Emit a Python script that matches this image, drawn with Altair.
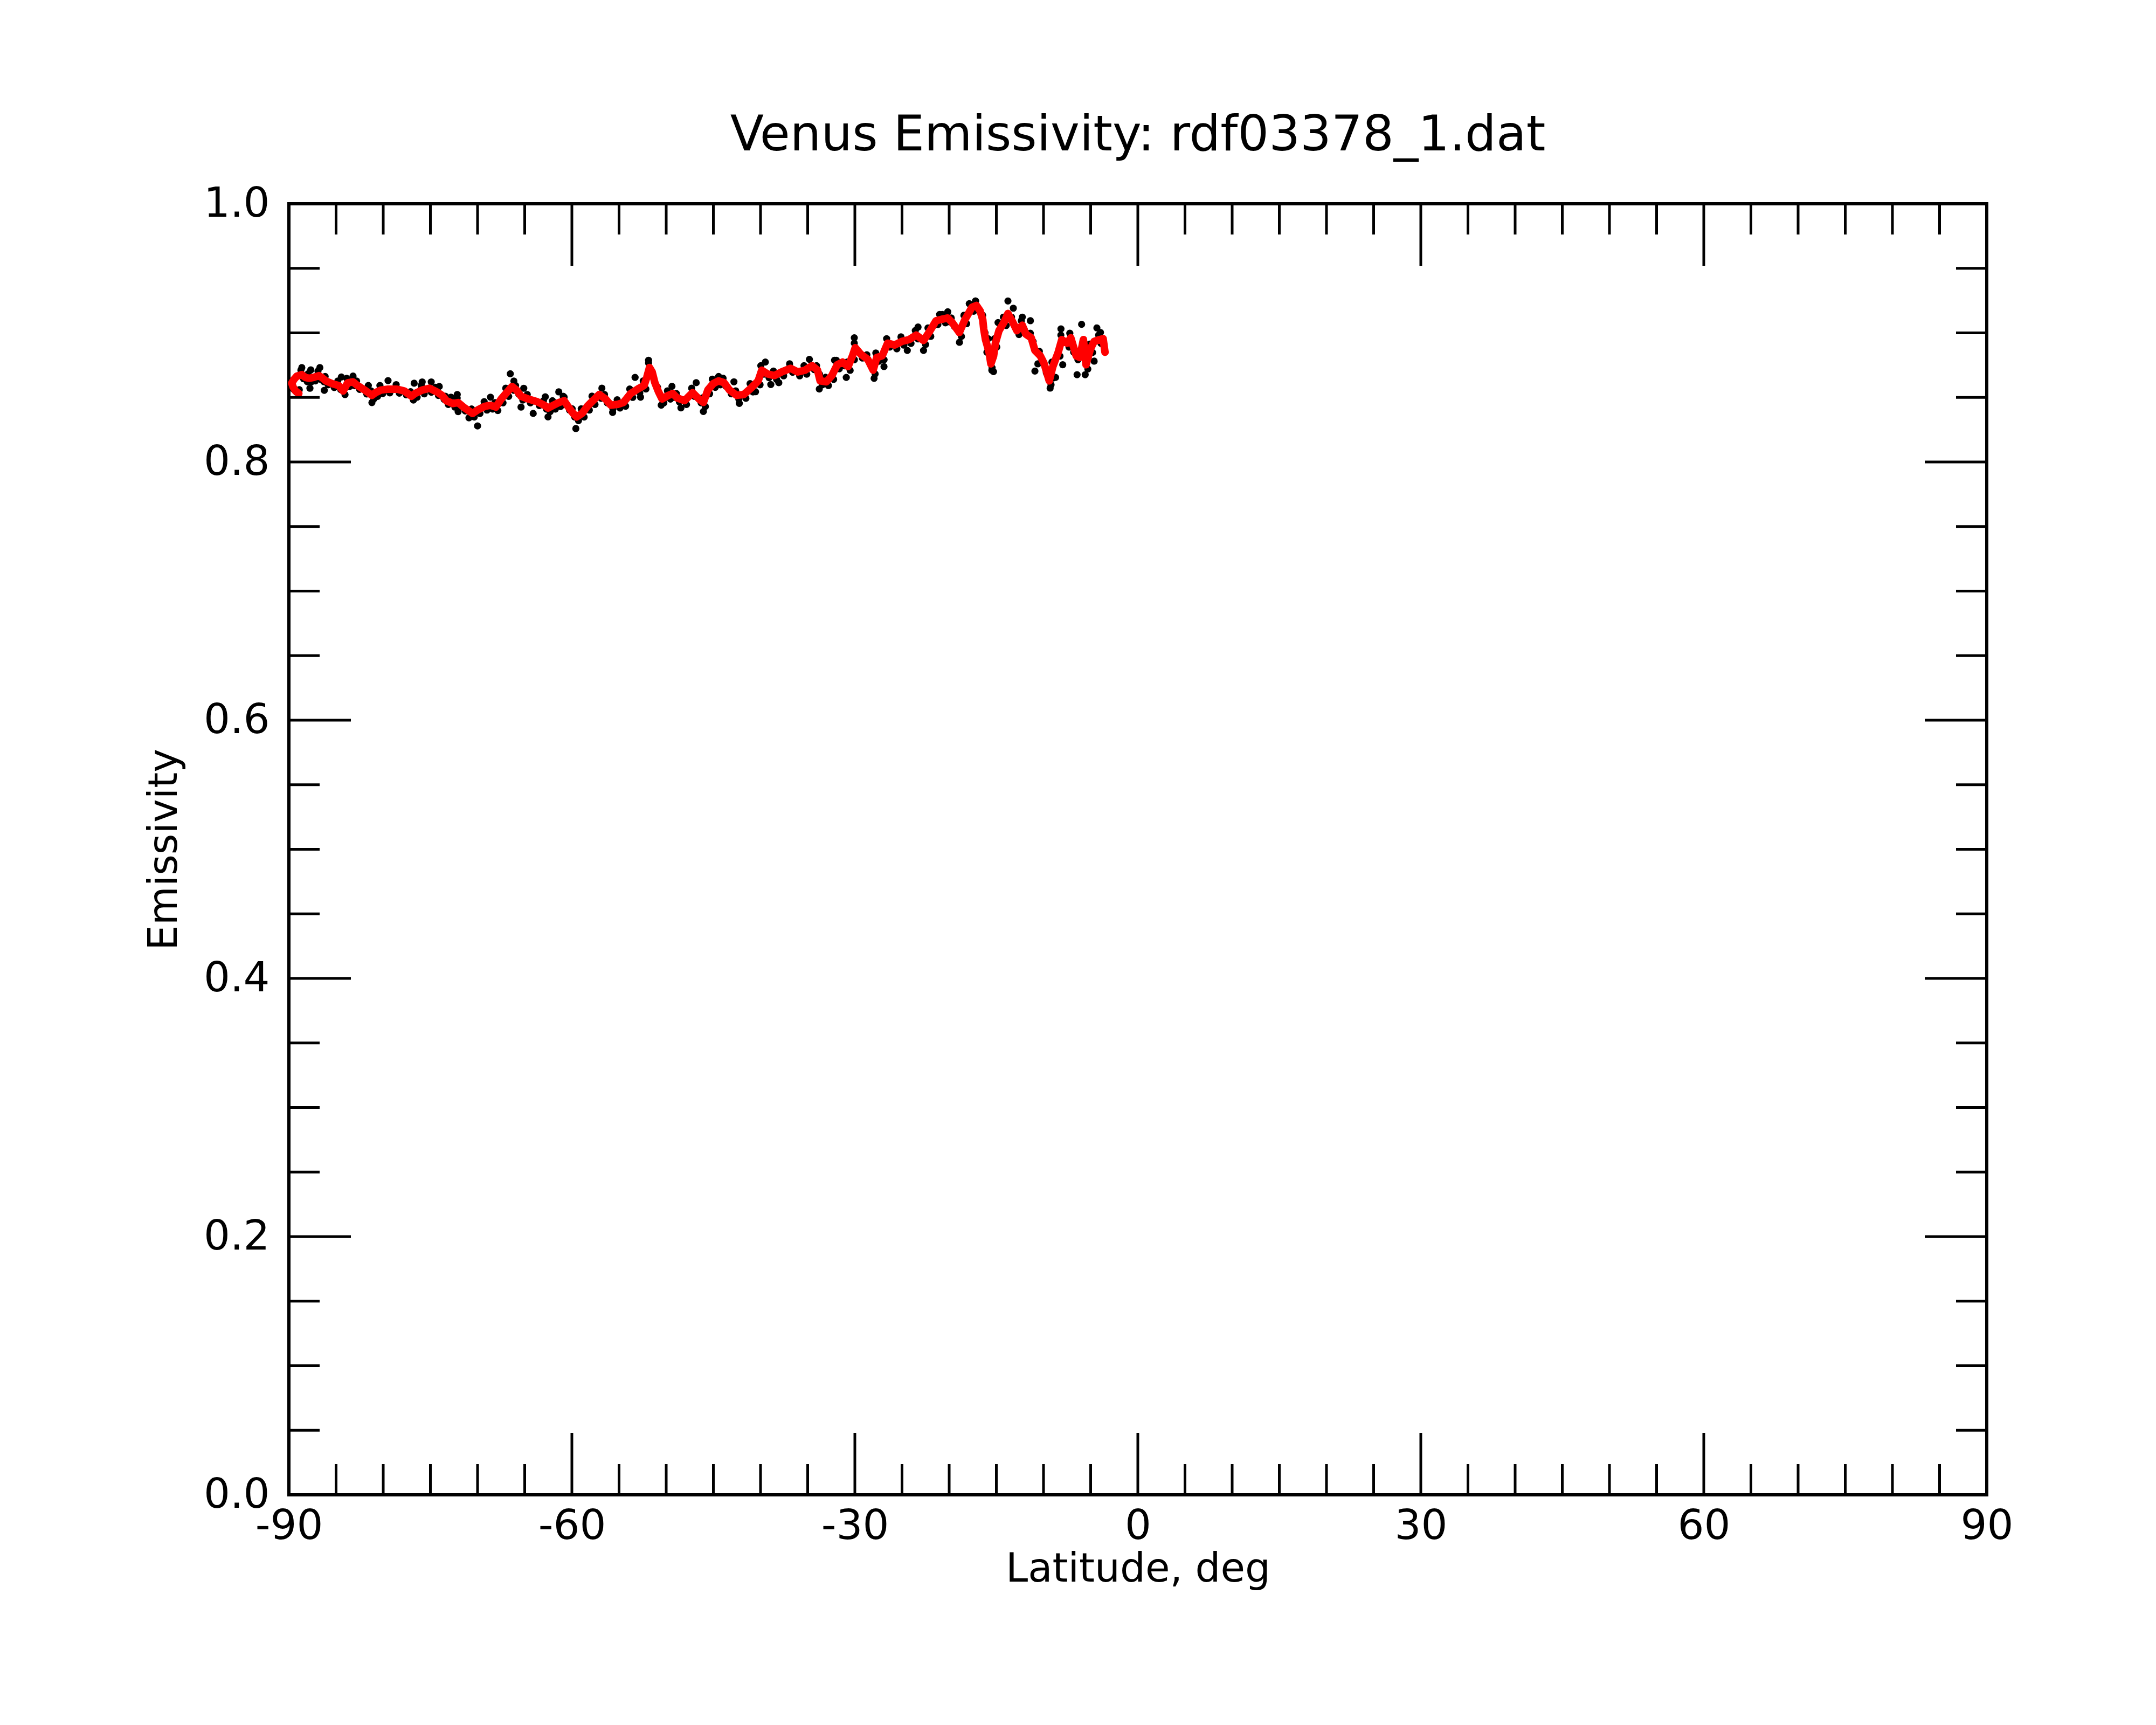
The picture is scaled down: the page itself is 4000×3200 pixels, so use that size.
import altair as alt
import pandas as pd

F = "DejaVu Sans"

# Smoothed emissivity (red)
red_lat = [-88.95, -89.30, -89.55, -89.70, -89.45, -89.15, -88.63, -88.25, -87.87, -87.39,
           -86.82, -86.53, -86.06, -85.39, -84.72, -84.25, -83.77, -83.20, -82.72, -81.96,
           -81.20, -80.82, -80.25, -79.49, -78.53, -77.77, -77.00, -76.63, -75.87, -75.10,
           -74.34, -73.77, -73.30, -72.63, -72.06, -71.49, -70.53, -69.96, -69.20, -68.63,
           -68.06, -67.49, -66.91, -66.34, -65.87, -65.39, -64.63, -63.68, -62.91, -62.53,
           -61.96, -61.39, -60.82, -60.44, -59.87, -59.49, -58.91, -58.34, -57.77, -57.10,
           -56.44, -55.87, -55.10, -54.53, -53.77, -53.01, -52.34, -52.06, -51.77, -51.49,
           -51.20, -50.82, -50.44, -49.77, -49.30, -48.82, -48.06, -47.20, -46.53, -46.06,
           -45.58, -45.01, -44.44, -43.87, -43.30, -42.53, -41.77, -41.01, -40.25, -39.87,
           -39.29, -38.53, -37.77, -36.82, -36.06, -35.29, -34.53, -33.96, -33.68, -33.01,
           -32.44, -31.87, -31.30, -30.72, -30.25, -29.96, -29.39, -28.63, -28.06, -27.68,
           -27.10, -26.53, -25.77, -25.01, -24.25, -23.49, -22.72, -22.15, -21.39, -20.63,
           -20.15, -19.68, -18.92, -18.34, -17.58, -17.11, -16.72, -16.44, -16.34, -16.15,
           -15.77, -15.58, -15.29, -15.10, -14.72, -14.15, -13.77, -13.29, -12.82, -12.25,
           -11.87, -11.30, -10.91, -10.34, -9.96, -9.39, -9.01, -8.44, -8.06, -7.49,
           -7.11, -6.53, -6.15, -5.77, -5.49, -5.01, -4.63, -4.06, -3.68, -3.48]
red_val = [0.8530, 0.8550, 0.8580, 0.8610, 0.8640, 0.8665, 0.8676, 0.8655, 0.8648, 0.8655,
           0.8669, 0.8655, 0.8627, 0.8606, 0.8592, 0.8550, 0.8613, 0.8620, 0.8592, 0.8557,
           0.8516, 0.8537, 0.8557, 0.8564, 0.8564, 0.8550, 0.8509, 0.8530, 0.8557, 0.8571,
           0.8544, 0.8516, 0.8474, 0.8453, 0.8460, 0.8425, 0.8376, 0.8404, 0.8432, 0.8439,
           0.8425, 0.8488, 0.8537, 0.8585, 0.8557, 0.8509, 0.8488, 0.8467, 0.8439, 0.8418,
           0.8439, 0.8460, 0.8474, 0.8433, 0.8377, 0.8349, 0.8377, 0.8433, 0.8475, 0.8523,
           0.8488, 0.8440, 0.8447, 0.8461, 0.8530, 0.8565, 0.8593, 0.8655, 0.8732, 0.8697,
           0.8614, 0.8544, 0.8488, 0.8516, 0.8530, 0.8495, 0.8475, 0.8537, 0.8488, 0.8461,
           0.8558, 0.8607, 0.8628, 0.8614, 0.8558, 0.8516, 0.8523, 0.8572, 0.8628, 0.8711,
           0.8683, 0.8669, 0.8697, 0.8725, 0.8697, 0.8711, 0.8746, 0.8711, 0.8628, 0.8621,
           0.8669, 0.8753, 0.8774, 0.8739, 0.8822, 0.8885, 0.8836, 0.8795, 0.8711, 0.8809,
           0.8822, 0.8920, 0.8906, 0.8934, 0.8948, 0.8983, 0.8941, 0.9003, 0.9094, 0.9108,
           0.9115, 0.9080, 0.9003, 0.9101, 0.9198, 0.9212, 0.9170, 0.9101, 0.9031, 0.8948,
           0.8850, 0.8760, 0.8822, 0.8920, 0.9017, 0.9087, 0.9150, 0.9087, 0.9017, 0.9059,
           0.8990, 0.8962, 0.8864, 0.8822, 0.8767, 0.8628, 0.8739, 0.8850, 0.8948, 0.8920,
           0.8962, 0.8822, 0.8809, 0.8948, 0.8753, 0.8878, 0.8934, 0.8948, 0.8955, 0.8850]

# Raw emissivity samples (black)
black_lat = [-89.45, -88.45, -88.05, -87.65, -87.20, -86.62, -86.30, -85.85, -85.20, -84.50,
             -84.05, -83.55, -83.00, -82.50, -81.75, -81.00, -80.60, -80.05, -79.30, -78.30,
             -77.55, -76.80, -76.40, -75.65, -74.90, -74.15, -73.55, -73.10, -72.40, -71.85,
             -71.30, -70.35, -69.75, -69.00, -68.40, -67.85, -67.30, -66.70, -66.15, -65.65,
             -65.20, -64.40, -63.45, -62.70, -62.30, -61.75, -61.20, -60.65, -60.25, -59.70,
             -59.30, -58.70, -58.15, -57.55, -56.90, -56.25, -55.65, -54.90, -54.30, -53.55,
             -52.80, -52.15, -51.60, -51.00, -50.60, -50.25, -49.55, -49.10, -48.60, -47.85,
             -47.00, -46.30, -45.85, -45.40, -44.80, -44.25, -43.65, -43.10, -42.30, -41.55,
             -40.80, -40.05, -39.65, -39.10, -38.30, -37.55, -36.60, -35.85, -35.10, -34.30,
             -33.75, -33.45, -32.80, -32.25, -31.65, -31.10, -30.50, -30.05, -29.75, -29.20,
             -28.40, -27.85, -27.45, -26.90, -26.30, -25.55, -24.80, -24.05, -23.30, -22.50,
             -21.95, -21.20, -20.40, -19.95, -19.45, -18.70, -18.15, -17.40, -16.90, -16.55,
             -16.20, -15.60, -15.45, -14.95, -13.95, -13.55, -12.60, -12.05, -11.10, -10.15,
             -9.20, -8.25, -7.30, -6.35, -4.80, -3.90,
             -88.63, -87.68, -86.72, -87.77, -84.44, -86.25, -83.20, -81.58, -81.20, -79.49,
             -76.72, -75.87, -74.91, -74.06, -72.82, -72.15, -72.06, -70.91, -70.00, -68.63,
             -66.53, -66.15, -65.10, -65.39, -64.10, -62.82, -61.39, -62.53,
             -60.82, -59.58, -56.82, -55.68, -53.30, -51.87, -52.72, -50.53, -49.39, -48.44,
             -46.82, -46.06, -44.44, -42.82, -42.25, -40.53, -39.49, -38.91, -38.06, -34.82,
             -33.77, -32.15,
             -30.91, -30.06, -27.96, -26.91, -24.44, -23.30, -22.72, -21.01, -20.15, -18.91,
             -17.20, -17.87, -15.87, -15.48, -14.82, -13.77, -13.20, -12.25, -11.39, -10.91,
             -9.30, -8.72, -8.15, -7.96, -6.44, -5.96, -5.58, -4.34, -3.96, -4.63,
             -89.70, -89.20, -88.90, -16.00, -15.30, -10.60, -9.70, -9.00, -5.30, -6.80,
             -88.73, -87.97, -86.92, -86.16, -84.82, -83.87, -82.82, -81.30, -80.35, -78.63,
             -77.10, -75.97, -74.44, -73.40, -72.16, -70.63, -69.30, -68.16, -67.01, -65.97,
             -64.73, -63.01, -62.06, -60.92, -59.97, -59.01, -57.87, -56.54, -55.20, -53.87,
             -52.44, -51.87, -50.92, -49.87, -48.92, -47.30, -46.16, -45.11, -43.97, -42.63,
             -41.11, -39.97, -38.63, -36.92, -35.39, -34.06, -33.11, -31.97, -30.82, -30.06,
             -28.73, -27.78, -26.63, -25.11, -23.59, -22.25, -20.73, -19.78, -18.44, -17.21,
             -16.45, -15.87, -15.20, -14.25, -13.39, -12.35, -11.40, -10.44, -9.11, -8.16,
             -7.21, -6.25, -5.11, -4.16]
black_val = [0.8560, 0.8645, 0.8622, 0.8620, 0.8628, 0.8640, 0.8622, 0.8598, 0.8577, 0.8560,
             0.8522, 0.8585, 0.8590, 0.8562, 0.8527, 0.8488, 0.8508, 0.8530, 0.8535, 0.8533,
             0.8520, 0.8480, 0.8502, 0.8528, 0.8540, 0.8515, 0.8485, 0.8445, 0.8425, 0.8430,
             0.8395, 0.8348, 0.8375, 0.8402, 0.8410, 0.8398, 0.8458, 0.8508, 0.8555, 0.8527,
             0.8480, 0.8458, 0.8437, 0.8410, 0.8390, 0.8410, 0.8430, 0.8443, 0.8402, 0.8348,
             0.8320, 0.8348, 0.8402, 0.8445, 0.8493, 0.8458, 0.8410, 0.8418, 0.8432, 0.8500,
             0.8535, 0.8565, 0.8700, 0.8585, 0.8515, 0.8458, 0.8487, 0.8500, 0.8465, 0.8445,
             0.8508, 0.8458, 0.8430, 0.8528, 0.8578, 0.8598, 0.8585, 0.8528, 0.8487, 0.8493,
             0.8542, 0.8598, 0.8680, 0.8653, 0.8640, 0.8667, 0.8695, 0.8667, 0.8680, 0.8715,
             0.8680, 0.8598, 0.8592, 0.8640, 0.8722, 0.8745, 0.8710, 0.8792, 0.8855, 0.8805,
             0.8765, 0.8682, 0.8780, 0.8792, 0.8890, 0.8876, 0.8905, 0.8918, 0.8953, 0.8910,
             0.8973, 0.9064, 0.9078, 0.9085, 0.9050, 0.8973, 0.9071, 0.9168, 0.9182, 0.9140,
             0.9000, 0.8820, 0.8730, 0.8890, 0.9057, 0.9120, 0.8987, 0.9029, 0.8932, 0.8792,
             0.8598, 0.8820, 0.8890, 0.8792, 0.8848, 0.8918,
             0.8731, 0.8713, 0.8731, 0.8571, 0.8658, 0.8555, 0.8665, 0.8592, 0.8460, 0.8630,
             0.8610, 0.8620, 0.8620, 0.8585, 0.8502, 0.8523, 0.8390, 0.8342, 0.8279, 0.8502,
             0.8683, 0.8627, 0.8571, 0.8425, 0.8376, 0.8505, 0.8543, 0.8349,
             0.8502, 0.8259, 0.8572, 0.8384, 0.8655, 0.8788, 0.8502, 0.8440, 0.8586, 0.8419,
             0.8614, 0.8391, 0.8662, 0.8621, 0.8454, 0.8544, 0.8774, 0.8600, 0.8614, 0.8795,
             0.8565, 0.8788,
             0.8655, 0.8962, 0.8648, 0.8739, 0.8864, 0.9045, 0.8864, 0.9143, 0.9163, 0.8927,
             0.9247, 0.9226, 0.8955, 0.8711, 0.9080, 0.9247, 0.9191, 0.9122, 0.9094, 0.8704,
             0.8572, 0.8655, 0.9031, 0.8753, 0.8676, 0.9066, 0.8676, 0.9038, 0.9003, 0.8781,
             0.8575, 0.8540, 0.8560, 0.8850, 0.8700, 0.8760, 0.8690, 0.8650, 0.8720, 0.8850,
             0.8711, 0.8683, 0.8704, 0.8662, 0.8627, 0.8648, 0.8627, 0.8551, 0.8592, 0.8599,
             0.8544, 0.8592, 0.8579, 0.8509, 0.8495, 0.8411, 0.8467, 0.8460, 0.8572, 0.8592,
             0.8523, 0.8474, 0.8474, 0.8509, 0.8412, 0.8412, 0.8510, 0.8523, 0.8482, 0.8565,
             0.8628, 0.8767, 0.8579, 0.8551, 0.8530, 0.8572, 0.8496, 0.8642, 0.8649, 0.8551,
             0.8607, 0.8746, 0.8704, 0.8760, 0.8746, 0.8746, 0.8656, 0.8788, 0.8774, 0.8920,
             0.8830, 0.8844, 0.8955, 0.8969, 0.9018, 0.9038, 0.9143, 0.9115, 0.9136, 0.9247,
             0.9136, 0.8885, 0.8955, 0.9122, 0.9122, 0.9094, 0.8997, 0.8857, 0.8774, 0.8983,
             0.8997, 0.8844, 0.8913, 0.8983]

x_major = [-90, -60, -30, 0, 30, 60, 90]
x_minor = [-85, -80, -75, -70, -65, -55, -50, -45, -40, -35, -25, -20, -15, -10, -5,
           5, 10, 15, 20, 25, 35, 40, 45, 50, 55, 65, 70, 75, 80, 85]
y_major = [0.0, 0.2, 0.4, 0.6, 0.8, 1.0]
y_minor = [0.05, 0.1, 0.15, 0.25, 0.3, 0.35, 0.45, 0.5, 0.55, 0.65, 0.7, 0.75,
           0.85, 0.9, 0.95]

W, H = 3150, 2395
MAJ, MIN = 115, 57
TW = 5

red_df = pd.DataFrame({"lat": red_lat, "val": red_val, "i": list(range(len(red_lat)))})
blk_df = pd.DataFrame({"lat": black_lat, "val": black_val})

xsc = alt.Scale(domain=[-90, 90], nice=False, zero=False)
ysc = alt.Scale(domain=[0, 1], nice=False, zero=False)

xaxis = alt.Axis(values=x_major, labelExpr="toString(datum.value)", labelFont=F,
                 labelFontSize=77, labelColor="black",
                 ticks=False, domain=False, grid=False, labelPadding=20, labelFlush=False,
                 labelOverlap=False, titleFont=F, titleFontSize=74,
                 titleFontWeight="normal", titleColor="black", titlePadding=6)
yaxis = alt.Axis(values=y_major, format=".1f", labelFont=F, labelFontSize=77, labelColor="black",
                 ticks=False, domain=False, grid=False, labelPadding=36, labelFlush=False,
                 labelOverlap=False, titleFont=F, titleFontSize=74,
                 titleFontWeight="normal", titleColor="black", titlePadding=34)

XT = "Latitude, deg"
YT = "Emissivity"


def X(f):
    return alt.X(f, scale=xsc, axis=xaxis, title=XT)


def Y(f):
    return alt.Y(f, scale=ysc, axis=yaxis, title=YT)


black = alt.Chart(blk_df).mark_circle(size=175, color="black", opacity=1).encode(
    x=X("lat:Q"), y=Y("val:Q"))

red = alt.Chart(red_df).mark_line(color="#ff0000", strokeWidth=14, strokeCap="round",
                                  strokeJoin="round").encode(
    x=X("lat:Q"), y=Y("val:Q"), order=alt.Order("i:Q"))


def xticks(vals, length):
    d = pd.DataFrame({"t": vals})
    bot = alt.Chart(d).mark_rule(color="black", strokeWidth=TW).encode(
        x=X("t:Q"), y=alt.value(H), y2=alt.value(H - length))
    top = alt.Chart(d).mark_rule(color="black", strokeWidth=TW).encode(
        x=X("t:Q"), y=alt.value(0), y2=alt.value(length))
    return [bot, top]


def yticks(vals, length):
    d = pd.DataFrame({"t": vals})
    left = alt.Chart(d).mark_rule(color="black", strokeWidth=TW).encode(
        y=Y("t:Q"), x=alt.value(0), x2=alt.value(length))
    right = alt.Chart(d).mark_rule(color="black", strokeWidth=TW).encode(
        y=Y("t:Q"), x=alt.value(W), x2=alt.value(W - length))
    return [left, right]


layers = [black, red] + xticks(x_major, MAJ) + xticks(x_minor, MIN) + \
    yticks(y_major, MAJ) + yticks(y_minor, MIN)

chart = alt.layer(*layers).properties(
    width=W, height=H,
    title=alt.TitleParams("Venus Emissivity: rdf03378_1.dat", font=F, fontSize=91,
                          fontWeight="normal", color="black", anchor="middle",
                          frame="group", baseline="alphabetic", offset=-31),
    autosize=alt.AutoSizeParams(type="none"),
    padding={"left": 528, "top": 370, "right": 300, "bottom": 400},
).configure(background="white").configure_view(stroke="black", strokeWidth=6)

chart.save("out.html", embed_options={"renderer": "svg", "actions": False})
